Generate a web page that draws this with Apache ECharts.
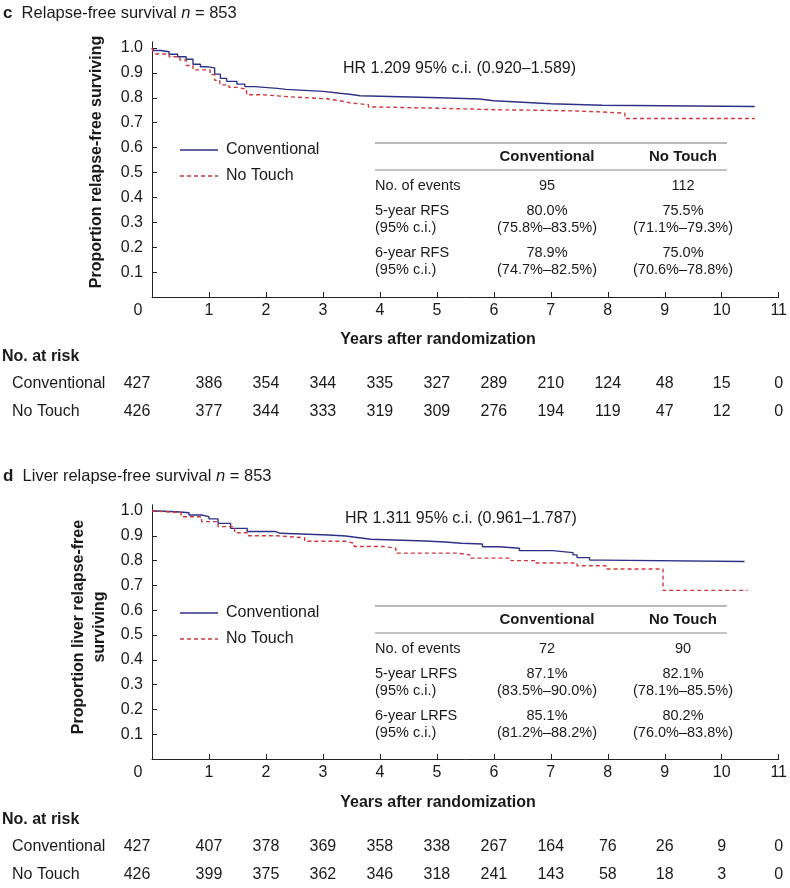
<!DOCTYPE html>
<html><head><meta charset="utf-8">
<script src="https://cdn.jsdelivr.net/npm/echarts@6/dist/echarts.min.js"></script>
<style>html,body{margin:0;padding:0;background:#fff}#c{width:790px;height:888px}</style>
</head><body><div id="c"></div>
<script>
// ---------- data ----------
const years = [0,1,2,3,4,5,6,7,8,9,10,11];
const yTicks = [0.1,0.2,0.3,0.4,0.5,0.6,0.7,0.8,0.9,1.0];
const seriesNames = ['Conventional','No Touch'];

// Panel c: relapse-free survival (step points: [years, proportion])
const rfsConventional = [[0,1.0],[0.03,0.99],[0.15,0.985],[0.3,0.975],[0.45,0.965],[0.6,0.955],[0.72,0.935],[0.85,0.925],[0.96,0.92],[1.1,0.895],[1.2,0.878],[1.31,0.866],[1.49,0.855],[1.63,0.845],[1.8,0.838],[2.2,0.834],[2.35,0.826],[3.0,0.818],[3.3,0.813],[3.5,0.808],[3.65,0.80],[5.05,0.795],[5.75,0.788],[6.0,0.782],[6.5,0.776],[7.0,0.773],[7.45,0.77],[7.9,0.765],[10.58,0.765]];
const rfsNoTouch = [[0,1.0],[0.02,0.985],[0.05,0.976],[0.3,0.965],[0.49,0.952],[0.6,0.93],[0.72,0.912],[1.02,0.893],[1.1,0.87],[1.19,0.852],[1.35,0.842],[1.49,0.834],[1.66,0.812],[1.95,0.804],[2.42,0.796],[3.07,0.788],[3.3,0.78],[3.47,0.772],[3.8,0.763],[4.0,0.758],[5.0,0.755],[5.6,0.752],[6.0,0.75],[6.8,0.747],[7.45,0.743],[7.9,0.738],[8.3,0.717],[10.58,0.717]];

// Panel d: liver relapse-free survival
const lrfsConventional = [[0,1.0],[0.1,0.997],[0.43,0.993],[0.65,0.984],[0.87,0.977],[1.0,0.968],[1.16,0.95],[1.38,0.93],[1.67,0.917],[2.17,0.91],[2.25,0.903],[3.1,0.899],[3.4,0.893],[3.6,0.886],[3.84,0.879],[4.8,0.875],[5.14,0.87],[5.43,0.867],[5.8,0.856],[6.09,0.85],[6.45,0.84],[7.03,0.832],[7.39,0.823],[7.46,0.812],[7.68,0.802],[7.9,0.796],[10.4,0.796]];
const lrfsNoTouch = [[0,1.0],[0.02,0.993],[0.51,0.977],[0.87,0.957],[1.16,0.937],[1.45,0.912],[1.67,0.9],[2.17,0.892],[2.68,0.878],[3.4,0.87],[3.55,0.857],[4.06,0.85],[4.28,0.83],[5.36,0.823],[5.58,0.81],[6.3,0.8],[6.74,0.79],[7.46,0.779],[7.97,0.766],[8.97,0.68],[10.45,0.68]];

// Number at risk
const riskC_Conventional = [427,386,354,344,335,327,289,210,124,48,15,0];
const riskC_NoTouch      = [426,377,344,333,319,309,276,194,119,47,12,0];
const riskD_Conventional = [427,407,378,369,358,338,267,164,76,26,9,0];
const riskD_NoTouch      = [426,399,375,362,346,318,241,143,58,18,3,0];

// Summary tables
const tableHeader = ['Conventional','No Touch'];
const tableC_rows = ['No. of events','5-year RFS','(95% c.i.)','6-year RFS','(95% c.i.)'];
const tableC_conv = ['95','80.0%','(75.8%–83.5%)','78.9%','(74.7%–82.5%)'];
const tableC_nt   = ['112','75.5%','(71.1%–79.3%)','75.0%','(70.6%–78.8%)'];
const tableD_rows = ['No. of events','5-year LRFS','(95% c.i.)','6-year LRFS','(95% c.i.)'];
const tableD_conv = ['72','87.1%','(83.5%–90.0%)','85.1%','(81.2%–88.2%)'];
const tableD_nt   = ['90','82.1%','(78.1%–85.5%)','80.2%','(76.0%–83.8%)'];

const hrC = 'HR 1.209 95% c.i. (0.920–1.589)';
const hrD = 'HR 1.311 95% c.i. (0.961–1.787)';

// ---------- styling ----------
const FONT = '"Liberation Sans", Arial, Helvetica, sans-serif';
const TXT = '#1a1a1a';
const BLUE = '#2e3188';
const RED = '#d0393d';
const DASH = [4,3];
const OFF = 463; // vertical offset of panel d

const chart = echarts.init(document.getElementById('c'), null, {renderer:'canvas'});

function xAxisCfg(gi){
  return {
    gridIndex: gi, type:'value', min:0, max:11, interval:1,
    axisLine:{show:true, lineStyle:{color:'#222', width:1}},
    axisTick:{show:true, inside:true, length:5, lineStyle:{color:'#222'}},
    splitLine:{show:false},
    axisLabel:{fontFamily:FONT, fontSize:16, color:TXT, margin:6,
      formatter: v => v===0 ? '{z|0}' : String(v),
      rich:{z:{fontFamily:FONT, fontSize:16, color:TXT, padding:[0,28,0,0]}}}
  };
}
function yAxisCfg(gi){
  return {
    gridIndex: gi, type:'value', min:0, max:1.025, interval:0.1,
    axisLine:{show:true, lineStyle:{color:'#222', width:1}},
    axisTick:{show:true, inside:true, length:5, lineStyle:{color:'#222'}, customValues: yTicks},
    splitLine:{show:false},
    axisLabel:{fontFamily:FONT, fontSize:16, color:TXT, margin:9, customValues: yTicks,
      formatter: v => (v===0 || v>1.001) ? '' : v.toFixed(1)}
  };
}
function lineSeries(name, data, gi, color, dashed){
  return {
    name, type:'line', xAxisIndex:gi, yAxisIndex:gi, data, step:'end',
    symbol:'none', showSymbol:false, silent:true, animation:false,
    lineStyle:{color, width:1.4, type: dashed ? DASH : 'solid'},
    itemStyle:{color}
  };
}

const yTop1 = 48 - 0.025*249;
const option = {
  animation:false,
  backgroundColor:'#fff',
  grid:[
    {left:152, right:9, top: yTop1, height: 297 - yTop1},
    {left:152, right:9, top: yTop1+OFF, height: 297 - yTop1 - 1}
  ],
  xAxis:[xAxisCfg(0), xAxisCfg(1)],
  yAxis:[yAxisCfg(0), yAxisCfg(1)],
  series:[
    lineSeries(seriesNames[0], rfsConventional, 0, BLUE, false),
    lineSeries(seriesNames[1], rfsNoTouch, 0, RED, true),
    lineSeries(seriesNames[0], lrfsConventional, 1, BLUE, false),
    lineSeries(seriesNames[1], lrfsNoTouch, 1, RED, true)
  ]
};
chart.setOption(option);

// ---------- text / tables ----------
const g = [];
function txt(x, y, text, opts){
  opts = opts || {};
  g.push({type:'text', x, y, silent:true, rotation: opts.rotation||0,
    style:{text, fontFamily:FONT, fontSize: opts.size||16, fontWeight: opts.bold?'bold':'normal',
      fill: TXT, align: opts.align||'left', verticalAlign:'middle',
      lineHeight: opts.lineHeight, rich: opts.rich}});
}
function hline(x1, x2, y, color, w, dash){
  g.push({type:'line', silent:true, shape:{x1, y1:y, x2, y2:y}, style:{stroke:color, lineWidth:w, lineDash: dash||null}});
}
const titleRich = {
  b:{fontFamily:FONT, fontSize:17, fontWeight:'bold', fill:TXT},
  r:{fontFamily:FONT, fontSize:16.5, fill:TXT},
  i:{fontFamily:FONT, fontSize:16.5, fontStyle:'italic', fill:TXT}
};
txt(3, 13, '{b|c}{r|  Relapse-free survival }{i|n}{r| = 853}', {rich:titleRich});
txt(3, 13+OFF, '{b|d}{r|  Liver relapse-free survival }{i|n}{r| = 853}', {rich:titleRich});

txt(343, 69, hrC);
txt(345, 519, hrD);

txt(97, 162, 'Proportion relapse-free surviving', {bold:true, align:'center', rotation:Math.PI/2});
txt(89, 627, 'Proportion liver relapse-free\nsurviving', {bold:true, align:'center', rotation:Math.PI/2, lineHeight:21});

txt(438, 340, 'Years after randomization', {bold:true, align:'center'});
txt(438, 340+OFF, 'Years after randomization', {bold:true, align:'center'});

function legend(dy){
  hline(180, 218, 150+dy, BLUE, 1.5);
  txt(226, 150+dy, seriesNames[0]);
  hline(180, 218, 176+dy, RED, 1.5, DASH);
  txt(226, 176+dy, seriesNames[1]);
}
legend(0);
legend(OFF);

function table(dy, rows, conv, nt){
  const L = 375, R = 727, c1 = 547, c2 = 683;
  hline(L, R, 143+dy, '#777', 1.2);
  txt(c1, 157+dy, tableHeader[0], {bold:true, align:'center', size:15});
  txt(c2, 157+dy, tableHeader[1], {bold:true, align:'center', size:15});
  hline(L, R, 170+dy, '#888', 1.2);
  const ys = [186, 211, 228, 253, 270];
  rows.forEach((r,i)=>{
    txt(L, ys[i]+dy, r, {size:14.5});
    txt(c1, ys[i]+dy, conv[i], {size:14.5, align:'center'});
    txt(c2, ys[i]+dy, nt[i], {size:14.5, align:'center'});
  });
}
table(0, tableC_rows, tableC_conv, tableC_nt);
table(OFF, tableD_rows, tableD_conv, tableD_nt);

function riskTable(dy, gi, conv, nt){
  txt(2, 357+dy, 'No. at risk', {bold:true});
  txt(12, 384+dy, seriesNames[0]);
  txt(12, 412+dy, seriesNames[1]);
  years.forEach((t,i)=>{
    let x = chart.convertToPixel({xAxisIndex:gi}, t);
    if (t===0) x -= 15;
    txt(x, 384+dy, String(conv[i]), {align:'center'});
    txt(x, 412+dy, String(nt[i]), {align:'center'});
  });
}
riskTable(0, 0, riskC_Conventional, riskC_NoTouch);
riskTable(OFF, 1, riskD_Conventional, riskD_NoTouch);

chart.setOption({graphic: g});
</script></body></html>
